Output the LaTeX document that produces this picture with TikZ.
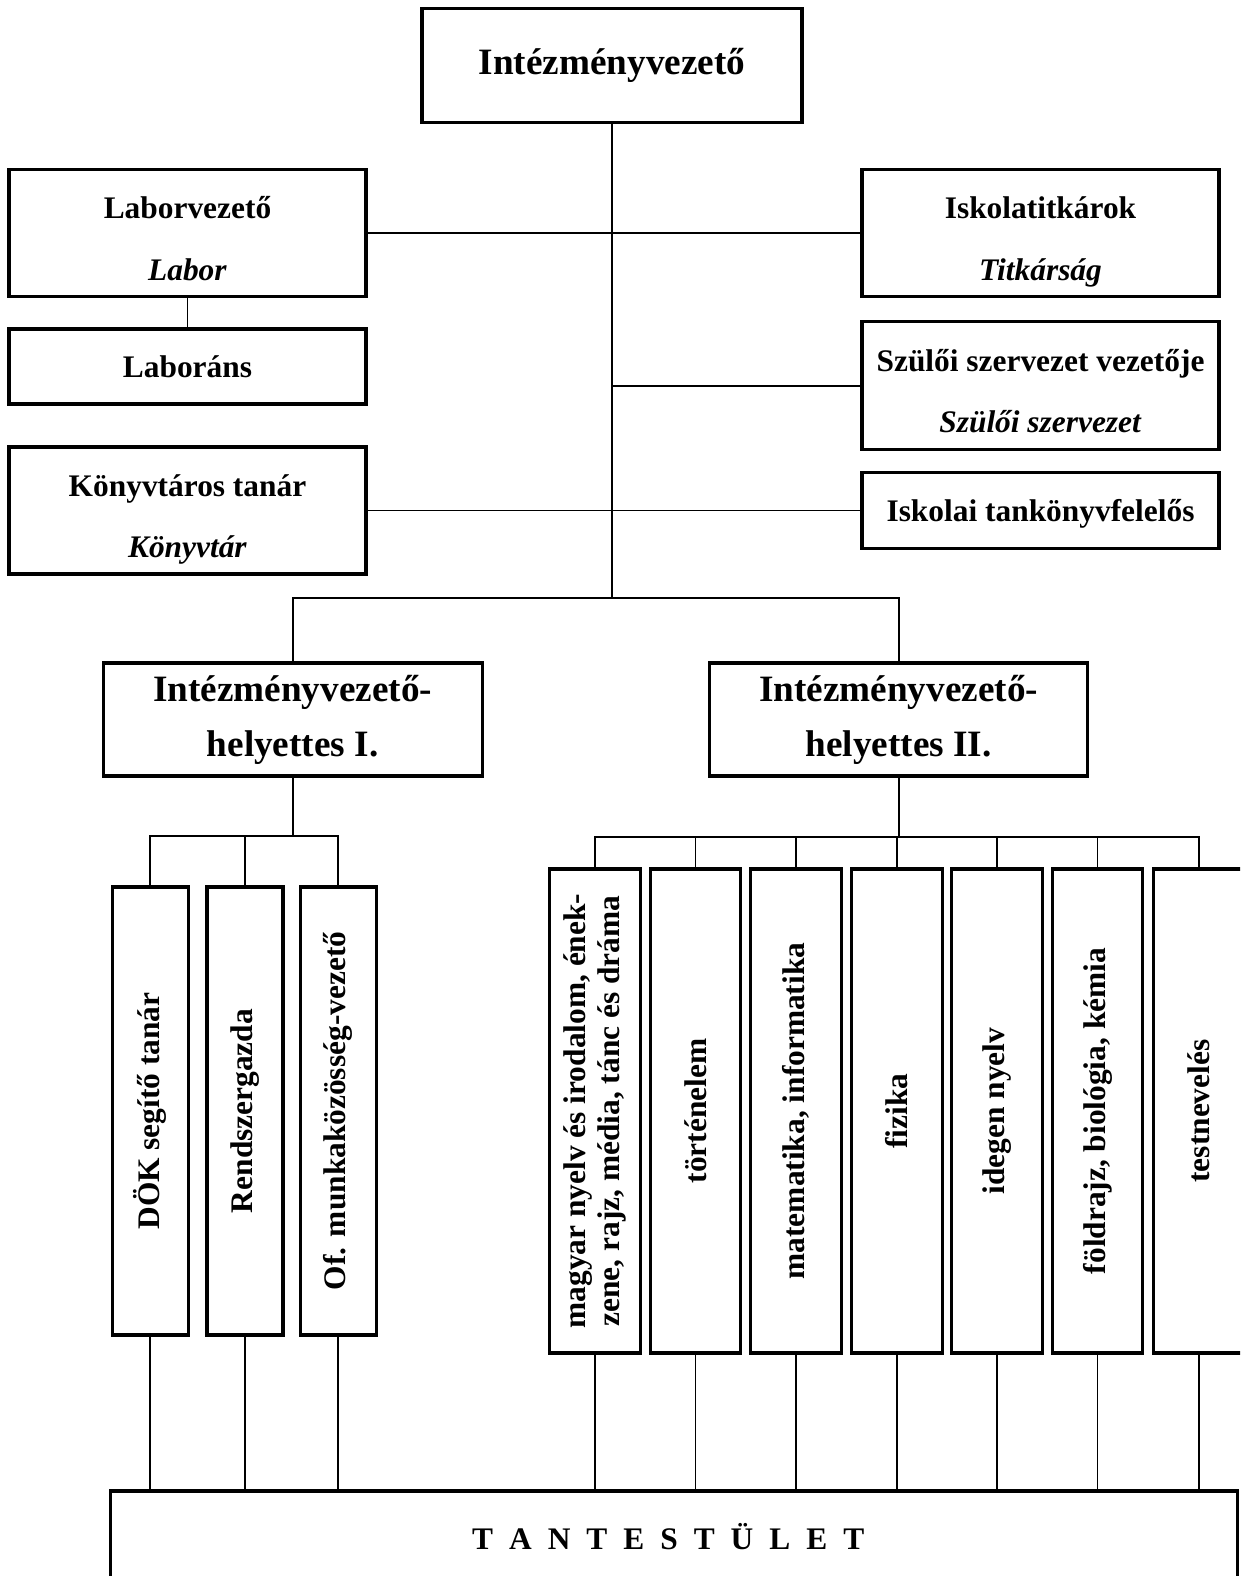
\documentclass[tikz,border=0pt]{standalone}
\usepackage{fontspec}
\setmainfont{Liberation Serif}
\usepackage{graphicx}
\newcommand{\twostrut}{\rule[-12.5pt]{0pt}{57.5pt}}
\newcommand{\onestrut}{\rule[-9pt]{0pt}{39pt}}
\begin{document}
\begin{tikzpicture}[x=1pt,y=-1pt,
  box/.style={draw, line width=3.2pt, inner sep=0pt, align=center,
    font=\bfseries\fontsize{31.4}{61.5}\selectfont},
  big/.style={box, font=\bfseries\fontsize{37.2}{55}\selectfont},
  tall/.style={box, minimum width=76pt, minimum height=448pt},
  subj/.style={box, minimum width=90.5pt, minimum height=484pt},
  conn/.style={line width=1.8pt}]
\clip (0,0) rectangle (1240,1576);
% top level
\node[big, minimum width=380pt, minimum height=114pt] (top) at (612,65.5) {Intézményvezető};
\node[box, minimum width=357pt, minimum height=127pt] (labv) at (187.5,233) {\twostrut Laborvezető\\\twostrut\textit{Labor}};
\node[box, minimum width=357pt, minimum height=75pt] (labor) at (187.5,366.5) {\onestrut Laboráns};
\node[box, minimum width=357pt, minimum height=127pt] (konyv) at (187.5,510.5) {\twostrut Könyvtáros tanár\\\twostrut\textit{Könyvtár}};
\node[box, minimum width=357pt, minimum height=127pt] (titk) at (1040.5,233) {\twostrut Iskolatitkárok\\\twostrut\textit{Titkárság}};
\node[box, minimum width=357pt, minimum height=128pt] (szulo) at (1040.5,385.6) {\twostrut Szülői szervezet vezetője\\\twostrut\textit{Szülői szervezet}};
\node[box, minimum width=357pt, minimum height=76pt] (tank) at (1040.5,510.5) {\onestrut Iskolai tankönyvfelelős};
% deputies
\node[big, minimum width=379pt, minimum height=113pt] (h1) at (292.6,719.5) {Intézményvezető-\\helyettes I.};
\node[big, minimum width=378pt, minimum height=113pt] (h2) at (898.6,719.5) {Intézményvezető-\\helyettes II.};
% left vertical boxes
\node[tall] (dok) at (150.3,1111) {\rotatebox{90}{DÖK segítő tanár}};
\node[tall] (rend) at (245,1111) {\rotatebox{90}{Rendszergazda}};
\node[tall] (of) at (338.3,1111) {\rotatebox{90}{Of. munkaközösség-vezető}};
% right vertical boxes
\node[subj] (magy) at (595,1111) {\rotatebox{90}{\parbox{440pt}{\centering\fontsize{31.4}{34.7}\selectfont magyar nyelv és irodalom, ének-\\zene, rajz, média, tánc és dráma}}};
\node[subj] (tort) at (695.5,1111) {\rotatebox{90}{történelem}};
\node[subj] (mat) at (796,1111) {\rotatebox{90}{matematika, informatika}};
\node[subj] (fiz) at (897,1111) {\rotatebox{90}{fizika}};
\node[subj] (ideg) at (997,1111) {\rotatebox{90}{idegen nyelv}};
\node[subj] (fold) at (1097.5,1111) {\rotatebox{90}{földrajz, biológia, kémia}};
\node[subj] (test) at (1198.6,1111) {\rotatebox{90}{testnevelés}};
% staff
\node[box, minimum width=1127pt, minimum height=92pt] (tant) at (674.2,1537)
  {T\kern16pt A\kern16pt N\kern16pt T\kern16pt E\kern16pt S\kern16pt T\kern16pt Ü\kern16pt L\kern16pt E\kern16pt T\hspace*{12pt}};
% connectors
\coordinate (j) at (612,598);
\coordinate (b1) at (292.6,836);
\coordinate (b2) at (898.6,837);
\draw[conn] (top.south) -- (j);
\draw[conn] (labv.east) -- (titk.west);
\draw[conn] (labv.south) -- (labor.north);
\draw[conn] (top.south |- szulo.west) -- (szulo.west);
\draw[conn] (konyv.east) -- (tank.west);
\draw[conn] (h1.north) -- (h1.north |- j) -- (h2.north |- j) -- (h2.north);
\draw[conn] (h1.south) -- (b1);
\draw[conn] (dok.north) -- (dok.north |- b1) -- (of.north |- b1) -- (of.north);
\draw[conn] (rend.north) -- (rend.north |- b1);
\draw[conn] (h2.south) -- (b2);
\draw[conn] (magy.north) -- (magy.north |- b2) -- (test.north |- b2) -- (test.north);
\foreach \n in {tort,mat,fiz,ideg,fold} \draw[conn] (\n.north) -- (\n.north |- b2);
\foreach \n in {dok,rend,of,magy,tort,mat,fiz,ideg,fold,test} \draw[conn] (\n.south) -- (\n.south |- tant.north);
\end{tikzpicture}
\end{document}
